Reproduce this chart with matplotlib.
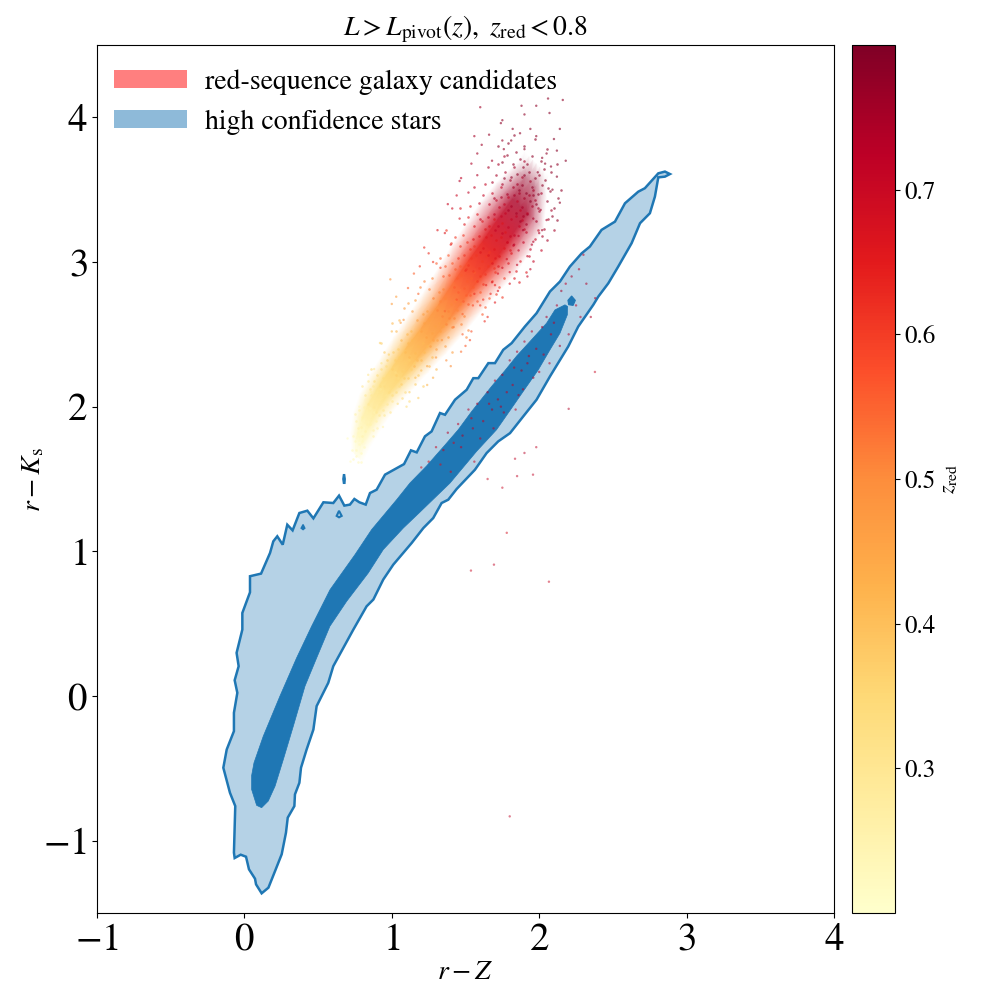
import matplotlib
matplotlib.use("Agg")
import matplotlib.pyplot as plt
import numpy as np
from matplotlib.patches import Patch
from matplotlib.cm import ScalarMappable
from matplotlib.colors import Normalize

plt.rcParams['font.family'] = ['STIXGeneral', 'Liberation Serif', 'DejaVu Serif']
plt.rcParams['mathtext.fontset'] = 'stix'

# ---- star density contours (r-Z, r-Ks) ----
outer_x = [0.117,0.079,0.072,0.031,0.011,-0.025,-0.066,-0.071,-0.062,-0.098,-0.143,-0.120,-0.071,-0.071,-0.048,-0.066,-0.039,-0.053,-0.014,-0.014,0.038,0.038,0.113,0.174,0.196,0.223,0.260,0.291,0.327,0.373,0.427,0.468,0.536,0.603,0.642,0.678,0.716,0.746,0.780,0.823,0.852,0.897,0.954,1.083,1.130,1.169,1.225,1.270,1.327,1.361,1.429,1.508,1.553,1.587,1.655,1.700,1.756,1.813,1.903,1.982,2.073,2.141,2.208,2.288,2.344,2.423,2.514,2.582,2.672,2.717,2.808,2.853,2.887,2.853,2.808,2.785,2.751,2.684,2.627,2.536,2.469,2.401,2.367,2.265,2.197,2.073,1.982,1.892,1.802,1.722,1.643,1.564,1.440,1.383,1.338,1.281,1.214,1.135,1.010,0.942,0.875,0.829,0.739,0.603,0.569,0.490,0.468,0.422,0.384,0.373,0.343,0.339,0.294,0.282,0.253,0.208,0.163]
outer_y = [-1.364,-1.302,-1.263,-1.198,-1.111,-1.097,-1.120,-1.083,-0.761,-0.669,-0.496,-0.370,-0.243,-0.116,0.022,0.109,0.206,0.298,0.459,0.574,0.717,0.828,0.846,0.989,1.069,1.104,1.046,1.184,1.145,1.265,1.281,1.228,1.339,1.334,1.385,1.316,1.323,1.362,1.339,1.323,1.403,1.426,1.530,1.603,1.698,1.684,1.795,1.829,1.956,1.944,2.048,2.117,2.197,2.197,2.301,2.301,2.393,2.439,2.554,2.646,2.796,2.865,2.968,3.060,3.107,3.222,3.279,3.406,3.486,3.510,3.613,3.625,3.608,3.590,3.585,3.452,3.337,3.268,3.130,2.968,2.853,2.761,2.704,2.554,2.416,2.209,2.048,1.933,1.817,1.760,1.679,1.564,1.431,1.357,1.334,1.230,1.161,1.058,0.908,0.805,0.667,0.620,0.459,0.206,0.091,-0.070,-0.232,-0.370,-0.496,-0.600,-0.680,-0.761,-0.841,-0.945,-1.094,-1.210,-1.325]
inner_x = [0.117,0.083,0.049,0.049,0.065,0.128,0.241,0.354,0.456,0.581,0.750,0.863,1.033,1.123,1.236,1.361,1.451,1.542,1.677,1.768,1.847,1.937,2.050,2.107,2.175,2.193,2.191,2.141,2.073,1.994,1.915,1.813,1.711,1.575,1.395,1.190,1.078,0.942,0.840,0.694,0.580,0.490,0.411,0.332,0.264,0.208,0.162]
inner_y = [-0.772,-0.756,-0.646,-0.550,-0.462,-0.278,-0.001,0.263,0.482,0.735,0.977,1.150,1.357,1.472,1.590,1.735,1.841,1.967,2.140,2.250,2.350,2.450,2.577,2.669,2.704,2.692,2.635,2.508,2.393,2.255,2.140,1.990,1.841,1.691,1.472,1.270,1.161,1.012,0.850,0.655,0.482,0.263,0.068,-0.208,-0.439,-0.623,-0.726]
blob_x = [2.195,2.220,2.245,2.230,2.200]
blob_y = [2.735,2.765,2.735,2.700,2.705]
sliver_x = [0.672,0.682,0.684,0.680,0.672,0.668]
sliver_y = [1.470,1.470,1.500,1.530,1.530,1.500]
loop1_x = [0.626,0.642,0.660,0.642]
loop1_y = [1.245,1.280,1.245,1.235]
loop2_x = [0.385,0.398,0.410,0.398]
loop2_y = [1.160,1.185,1.160,1.150]

# ---- galaxy cloud: dense ridge, centre line and half width by redshift ----
core_x = [0.765,0.78,0.82,0.87,0.95,1.04,1.13,1.24,1.36,1.47,1.57,1.67,1.77,1.87,1.94,1.98]
core_y = [1.66,1.76,1.88,1.99,2.12,2.24,2.36,2.50,2.66,2.82,2.96,3.09,3.24,3.39,3.56,3.68]
core_w = [0.02,0.03,0.04,0.045,0.05,0.055,0.06,0.065,0.07,0.075,0.08,0.085,0.085,0.08,0.055,0.04]
core_z = [0.21,0.23,0.25,0.28,0.32,0.36,0.40,0.45,0.50,0.55,0.60,0.65,0.70,0.75,0.78,0.79]
core_a = [0.3,0.7,0.85,0.92,0.95,0.95,0.95,0.95,0.95,0.95,0.95,0.92,0.88,0.80,0.45,0.0]
# position across the ridge (in half widths) and relative opacity there
across_t = [-2.0, -1.2, -0.6, 0.0, 0.6, 1.2, 2.0]
across_a = [0.0, 0.55, 1.0, 1.0, 1.0, 0.55, 0.0]

# ---- galaxy cloud: individual points, grouped by redshift ----
band_z = [0.22,0.25,0.29,0.33,0.37,0.41,0.46,0.51,0.56,0.61,0.66,0.71,0.75,0.78]
band_x = [
 [.74,.76,.77,.79,.75,.78,.80,.76,.73,.78,.81,.74,.77,.79],
 [.80,.85,.78,.87,.83,.89,.76,.82,.84,.79,.88,.81,.86,.77,.90,.75,.83,.85,.80,.87],
 [.86,.91,.94,.84,.88,.93,.97,.85,.90,.96,.82,.99,.92,.87,.95,.80,1.0,.89,.91,.84],
 [.94,.99,1.03,.92,.97,1.01,1.05,.90,.95,1.07,.88,.93,1.0,1.04,.96,1.09,.86,.98,1.02,1.12],
 [1.02,1.07,1.11,1.0,1.05,1.09,1.13,.97,1.03,1.16,.95,1.01,1.08,1.12,1.04,1.18,.93,1.06,1.15,1.21],
 [1.11,1.16,1.2,1.09,1.14,1.18,1.22,1.06,1.12,1.25,1.03,1.10,1.17,1.21,1.13,1.27,1.0,1.15,1.24,1.30,1.05],
 [1.22,1.27,1.31,1.2,1.25,1.29,1.33,1.17,1.23,1.36,1.14,1.21,1.28,1.32,1.24,1.38,1.11,1.26,1.35,1.41,1.16,1.08,1.30],
 [1.33,1.38,1.42,1.31,1.36,1.40,1.44,1.28,1.34,1.47,1.25,1.32,1.39,1.43,1.35,1.49,1.22,1.37,1.46,1.52,1.27,1.19,1.41,1.50],
 [1.44,1.49,1.53,1.42,1.47,1.51,1.55,1.39,1.45,1.58,1.36,1.43,1.50,1.54,1.46,1.60,1.33,1.48,1.57,1.63,1.38,1.30,1.52,1.61,1.41,1.56,1.35,1.66],
 [1.54,1.59,1.63,1.52,1.57,1.61,1.65,1.49,1.55,1.68,1.46,1.53,1.60,1.64,1.56,1.70,1.43,1.58,1.67,1.73,1.48,1.40,1.62,1.71,1.51,1.66,1.45,1.76,1.69,1.37,1.75,1.50],
 [1.64,1.69,1.73,1.62,1.67,1.71,1.76,1.59,1.65,1.79,1.56,1.63,1.70,1.74,1.66,1.81,1.52,1.68,1.78,1.84,1.58,1.49,1.72,1.83,1.61,1.77,1.55,1.87,1.80,1.46,1.86,1.60,1.75,1.91,1.53,1.69],
 [1.74,1.79,1.83,1.72,1.77,1.81,1.86,1.69,1.75,1.89,1.66,1.73,1.80,1.84,1.76,1.91,1.62,1.78,1.88,1.94,1.68,1.59,1.82,1.93,1.71,1.87,1.65,1.97,1.90,1.56,1.96,1.70,1.85,2.01,1.63,1.79,1.99,1.92,1.74,1.60],
 [1.83,1.88,1.92,1.81,1.86,1.90,1.95,1.78,1.84,1.98,1.75,1.82,1.89,1.93,1.85,2.00,1.71,1.87,1.97,2.03,1.77,1.68,1.91,2.02,1.80,1.96,1.74,2.06,1.99,1.65,2.05,1.79,1.94,2.10,1.72,1.88,2.08,2.01,1.83,1.69,1.90,1.76],
 [1.90,1.95,1.99,1.88,1.93,1.97,2.02,1.85,1.91,2.05,1.82,1.89,1.96,2.00,1.92,2.07,1.78,1.94,2.04,2.10,1.84,1.75,1.98,2.09,1.87,2.03,1.81,2.13,2.06,1.72,2.12,1.86,2.01,1.79,1.95,2.15,2.08,1.90,1.76,1.97,1.83,2.05,2.12],
]
band_y = [
 [1.64,1.70,1.62,1.68,1.76,1.74,1.76,1.66,1.70,1.80,1.72,1.80,1.82,1.62],
 [1.93,1.88,1.98,1.84,1.96,1.90,1.90,1.83,1.92,1.86,1.96,2.0,1.94,1.85,1.85,1.95,1.88,1.99,1.80,1.80],
 [2.08,2.02,1.98,2.02,2.0,2.06,2.02,2.12,2.10,2.08,2.08,1.96,2.12,2.14,1.94,2.14,2.04,1.96,1.94,2.18],
 [2.20,2.14,2.10,2.14,2.22,2.18,2.14,2.22,2.14,2.06,2.18,2.26,2.08,2.2,2.28,2.10,2.26,2.10,2.24,2.04],
 [2.32,2.25,2.20,2.26,2.34,2.30,2.26,2.32,2.22,2.16,2.38,2.38,2.20,2.32,2.40,2.22,2.44,2.16,2.30,2.14],
 [2.44,2.37,2.32,2.38,2.46,2.42,2.38,2.46,2.34,2.28,2.52,2.50,2.32,2.44,2.52,2.34,2.58,2.28,2.42,2.26,2.60],
 [2.58,2.51,2.46,2.52,2.60,2.56,2.52,2.60,2.48,2.42,2.66,2.64,2.46,2.58,2.66,2.48,2.72,2.42,2.56,2.38,2.74,2.68,2.40],
 [2.73,2.66,2.61,2.67,2.75,2.71,2.67,2.75,2.63,2.57,2.81,2.79,2.61,2.73,2.81,2.63,2.87,2.57,2.71,2.53,2.89,2.83,2.55,2.48],
 [2.89,2.82,2.77,2.83,2.91,2.87,2.83,2.91,2.79,2.73,2.97,2.95,2.77,2.89,2.97,2.79,3.03,2.73,2.87,2.69,3.05,2.99,2.71,2.64,2.99,2.93,2.90,2.75],
 [3.03,2.96,2.92,2.98,3.05,3.01,2.97,3.05,2.94,2.87,3.11,3.09,2.90,3.04,3.11,2.93,3.17,2.87,3.01,2.83,3.19,3.13,2.85,2.78,3.14,3.07,3.03,2.89,2.96,3.22,2.76,2.95],
 [3.17,3.09,3.04,3.10,3.19,3.15,3.10,3.18,3.05,2.99,3.25,3.23,3.03,3.17,3.25,3.06,3.31,2.99,3.14,2.94,3.33,3.26,2.97,2.89,3.28,3.21,3.16,3.01,3.08,3.37,2.86,3.07,3.27,2.93,3.39,3.30],
 [3.32,3.24,3.19,3.25,3.34,3.30,3.25,3.33,3.20,3.14,3.40,3.38,3.18,3.32,3.40,3.21,3.46,3.14,3.29,3.09,3.48,3.41,3.12,3.04,3.43,3.36,3.31,3.16,3.23,3.52,3.01,3.22,3.42,3.08,3.54,3.45,3.22,3.34,3.52,3.30],
 [3.46,3.38,3.33,3.39,3.48,3.44,3.39,3.47,3.34,3.28,3.54,3.52,3.32,3.46,3.54,3.35,3.60,3.28,3.43,3.23,3.62,3.55,3.26,3.18,3.57,3.50,3.45,3.30,3.37,3.66,3.15,3.36,3.56,3.22,3.68,3.59,3.36,3.48,3.66,3.44,3.70,3.73],
 [3.60,3.52,3.47,3.53,3.62,3.58,3.53,3.61,3.48,3.42,3.68,3.66,3.46,3.60,3.68,3.49,3.74,3.42,3.57,3.37,3.76,3.69,3.40,3.32,3.71,3.64,3.59,3.44,3.51,3.80,3.29,3.50,3.70,3.82,3.73,3.50,3.62,3.80,3.58,3.85,3.88,3.78,3.68],
]

# ---- galaxy cloud: sparse outskirts ----
edge_x = [2.16,2.06,1.98,1.88,1.60,1.75,1.94,2.14,2.07,1.56,1.61,1.75,1.81,1.87,1.98,2.05,2.12,1.54,1.47,1.44,1.41,1.36,1.25,1.19,0.99,1.11,1.00,1.94,1.80,1.92,1.63,1.53,1.37,1.20,1.10,0.94,2.05,2.14,2.12,2.00,1.70,1.65,1.50,1.72,1.85,1.95,2.02,2.09,1.58,1.52,1.46,1.40,1.33,1.28,1.18,1.06,0.92,0.84,1.04,1.12,1.16,1.24,1.30,1.08,0.98,0.86,1.34,1.42,1.48,1.55,1.62,1.70,1.78,1.86,1.96,2.08,2.02,1.90,1.82,1.76,1.68,1.58,1.66,1.74,1.90,2.10,2.18,1.92,1.80,1.68,1.56,1.48,1.46,1.38,1.31,1.22,1.15,1.03,1.00,0.93,0.88,0.78,0.72,0.70,1.96,2.01,1.86,1.72,1.64,1.54,1.47,1.40,1.28,1.24,1.18,1.36,1.44,1.50,1.60,1.67,1.75,1.83,1.89,1.99,2.04]
edge_y = [4.12,4.13,4.08,4.08,4.07,3.98,3.92,3.92,4.03,3.87,3.81,3.84,3.84,3.89,3.87,3.75,3.77,3.68,3.58,3.46,3.37,3.20,3.06,2.97,2.88,2.82,2.71,2.95,2.85,2.90,2.59,2.46,2.32,2.25,2.00,1.86,3.29,3.41,3.59,3.20,2.72,2.62,2.42,2.80,2.98,3.12,3.22,3.50,3.60,3.48,3.30,3.12,2.96,3.00,2.78,2.58,2.44,2.22,2.02,2.10,2.20,2.28,2.34,2.60,2.36,2.10,2.46,2.55,2.64,2.70,2.74,2.84,3.02,3.08,3.14,3.66,3.72,3.78,3.92,3.78,3.70,3.75,3.88,3.96,4.02,3.85,3.70,3.04,2.93,2.86,2.78,2.50,3.56,3.40,3.22,3.10,2.92,2.76,2.52,2.30,2.26,2.00,1.62,1.78,3.30,3.36,3.18,2.92,2.84,2.52,2.38,2.28,2.20,2.15,2.06,2.66,2.74,2.94,2.70,2.78,2.96,3.12,3.22,3.62,3.68]
edge_z = [0.78,0.78,0.78,0.78,0.76,0.78,0.78,0.79,0.79,0.75,0.76,0.77,0.78,0.78,0.78,0.78,0.79,0.74,0.72,0.70,0.69,0.66,0.62,0.60,0.48,0.55,0.46,0.72,0.68,0.71,0.62,0.58,0.50,0.40,0.33,0.24,0.75,0.78,0.79,0.74,0.65,0.62,0.56,0.66,0.71,0.74,0.76,0.79,0.74,0.72,0.68,0.64,0.60,0.61,0.54,0.46,0.36,0.30,0.32,0.36,0.40,0.44,0.47,0.48,0.36,0.27,0.48,0.52,0.55,0.58,0.61,0.64,0.68,0.71,0.73,0.78,0.78,0.78,0.78,0.77,0.76,0.76,0.77,0.78,0.78,0.79,0.79,0.72,0.69,0.66,0.62,0.55,0.73,0.70,0.66,0.62,0.55,0.46,0.40,0.30,0.28,0.22,0.21,0.21,0.75,0.76,0.72,0.67,0.64,0.57,0.53,0.49,0.43,0.41,0.37,0.54,0.57,0.62,0.60,0.63,0.69,0.72,0.75,0.78,0.78]

# ---- red objects lying on the stellar locus ----
mix_x = [2.30,2.27,2.22,2.18,2.15,2.12,2.25,2.32,2.38,2.05,2.08,2.02,1.98,1.95,1.92,1.90,1.88,1.85,1.82,1.80,1.78,1.75,1.72,1.70,1.68,1.65,1.62,1.58,1.55,1.52,1.48,1.45,1.42,1.38,1.35,1.30,1.25,1.20,2.10,2.03,1.96,1.89,1.84,1.76,1.69,1.60,1.56,1.47,1.40,2.14,2.20,2.28,2.35,2.00,2.07,1.93,1.86,1.83,1.74,1.66,1.54,1.33]
mix_y = [3.05,2.95,2.90,2.85,2.80,2.70,2.70,2.85,2.75,2.62,2.50,2.55,2.40,2.52,2.30,2.45,2.25,2.38,2.15,2.32,2.10,2.22,2.05,2.18,1.98,2.10,1.90,2.02,1.85,1.98,1.80,1.88,1.75,1.82,1.70,1.72,1.62,1.58,2.58,2.36,2.20,2.12,1.98,1.96,1.85,1.78,1.62,1.72,1.55,2.42,2.50,2.62,2.62,2.24,2.30,2.35,2.08,2.27,2.00,2.02,1.92,1.60]
mix_z = [0.72,0.72,0.74,0.72,0.75,0.73,0.72,0.74,0.72,0.74,0.72,0.75,0.73,0.72,0.74,0.72,0.75,0.73,0.72,0.74,0.72,0.73,0.74,0.72,0.75,0.73,0.72,0.74,0.72,0.73,0.74,0.72,0.70,0.73,0.72,0.70,0.68,0.66,0.73,0.72,0.74,0.73,0.72,0.74,0.73,0.72,0.70,0.72,0.70,0.75,0.73,0.72,0.74,0.73,0.72,0.74,0.73,0.72,0.74,0.72,0.71,0.68]
far_x = [1.537,1.693,1.78,2.066,1.80,1.958,1.836,2.20,2.378,1.85,1.75,1.98,1.65,1.90]
far_y = [0.867,0.908,1.128,0.79,-0.832,1.53,1.64,1.985,2.24,1.52,1.44,1.72,1.50,1.68]
far_z = [0.70,0.72,0.68,0.70,0.72,0.72,0.72,0.74,0.70,0.72,0.70,0.72,0.70,0.73]

x_ticks = [-1, 0, 1, 2, 3, 4]
y_ticks = [-1, 0, 1, 2, 3, 4]
x_ticklabels = ['$-1$', '$0$', '$1$', '$2$', '$3$', '$4$']
y_ticklabels = ['$-1$', '$0$', '$1$', '$2$', '$3$', '$4$']
cbar_ticks = [0.3, 0.4, 0.5, 0.6, 0.7]
legend_labels = ['red-sequence galaxy candidates', 'high confidence stars']

BLUE = '#1f77b4'
fig = plt.figure(figsize=(10, 10), dpi=100)
ax = fig.add_axes([0.097, 0.087, 0.737, 0.868])
cax = fig.add_axes([0.852, 0.087, 0.043, 0.868])

ax.fill(outer_x, outer_y, facecolor=BLUE, alpha=0.33, edgecolor='none', zorder=1)
ax.fill(outer_x, outer_y, facecolor='none', edgecolor=BLUE, lw=1.8, zorder=2)
ax.fill(inner_x, inner_y, facecolor=BLUE, edgecolor=BLUE, lw=0.5, zorder=3)
ax.fill(blob_x, blob_y, facecolor=BLUE, edgecolor=BLUE, lw=0.8, zorder=3)
ax.fill(sliver_x, sliver_y, facecolor=BLUE, edgecolor=BLUE, lw=1.0, zorder=3)
ax.fill(loop1_x, loop1_y, facecolor='#b3d1e6', edgecolor=BLUE, lw=1.5, zorder=3)
ax.fill(loop2_x, loop2_y, facecolor=BLUE, edgecolor=BLUE, lw=1.0, zorder=3)

norm = Normalize(0.2, 0.8)
cmap = plt.get_cmap('YlOrRd')

# dense ridge: soft-edged ribbon whose colour follows the redshift, faded
# towards the white background so that no seams show between its triangles
t = np.array(across_t)
ridge_X = np.outer(core_x, np.ones_like(t)) + np.outer(core_w, t)
ridge_Y = np.outer(core_y, np.ones_like(t)) - np.outer(core_w, t)
ridge_rgba = cmap(norm(core_z))[:, None, :].repeat(len(t), axis=1)
fade = np.outer(core_a, across_a)[:, :, None]
ridge_rgba[:, :, :3] = ridge_rgba[:, :, :3] * fade + (1 - fade)
ridge_rgba[:, :, 3] = 1.0
ax.pcolormesh(ridge_X, ridge_Y, ridge_rgba, shading='gouraud', zorder=4)

for xs, ys, z in zip(band_x, band_y, band_z):
    ax.scatter(xs, ys, color=cmap(norm(z)), s=3.5, alpha=0.6, linewidths=0, zorder=5)
ax.scatter(edge_x, edge_y, c=edge_z, cmap=cmap, norm=norm, s=3.0, alpha=0.6, linewidths=0, zorder=5)
ax.scatter(mix_x, mix_y, c=mix_z, cmap=cmap, norm=norm, s=3.0, alpha=0.55, linewidths=0, zorder=5)
ax.scatter(far_x, far_y, c=far_z, cmap=cmap, norm=norm, s=3.0, alpha=0.5, linewidths=0, zorder=5)

ax.set_xlim(-1, 4)
ax.set_ylim(-1.5, 4.5)
ax.set_xticks(x_ticks, x_ticklabels)
ax.set_yticks(y_ticks, y_ticklabels)
ax.tick_params(labelsize=28)
ax.set_xlabel(r'$r - Z$', fontsize=20, labelpad=2)
ax.set_ylabel(r'$r - K_{\rm s}$', fontsize=20, labelpad=-2)
ax.set_title(r'$L > L_{\rm pivot}(z),\ z_{\rm red} < 0.8$', fontsize=20, pad=4)

handles = [Patch(color='red', alpha=0.5, lw=0), Patch(color=BLUE, alpha=0.5, lw=0)]
ax.legend(handles, legend_labels, loc='upper left', bbox_to_anchor=(0.023, 0.9724),
          frameon=False, fontsize=20, handlelength=2.62, handleheight=0.6,
          handletextpad=0.65, labelspacing=0.52, borderaxespad=0, borderpad=0)

cb = fig.colorbar(ScalarMappable(norm=norm, cmap=cmap), cax=cax)
cb.set_ticks(cbar_ticks)
cb.ax.tick_params(labelsize=18)
cb.set_label(r'$z_{\rm red}$', fontsize=16, labelpad=2)

fig.savefig('out.png', dpi=100)
